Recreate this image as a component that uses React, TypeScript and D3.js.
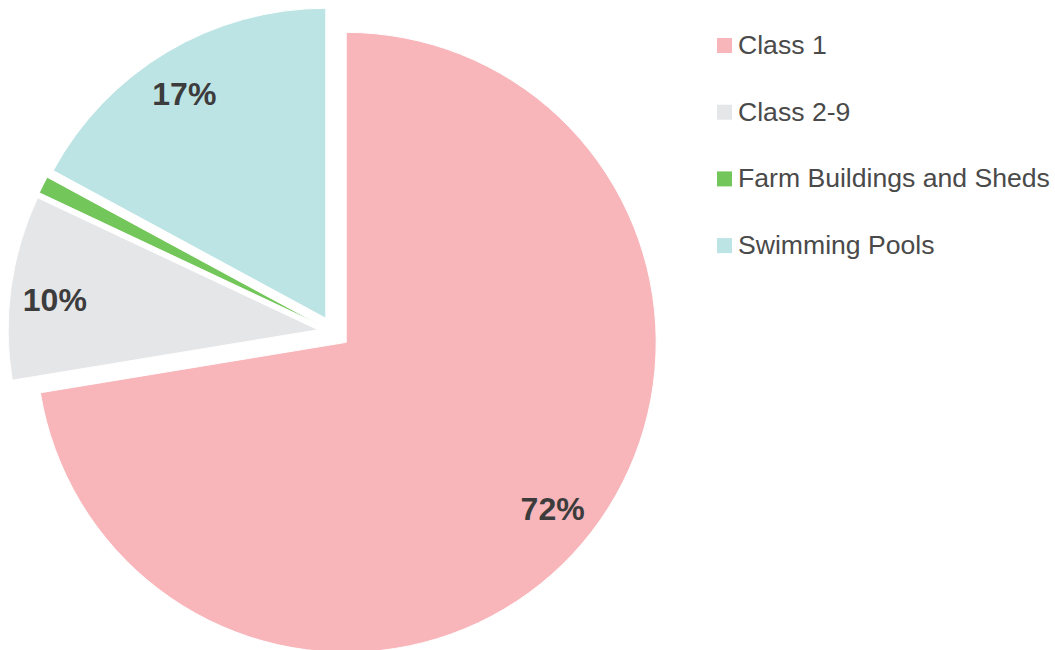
import React, { useRef, useEffect } from "react";
import * as d3 from "d3";

// slice data (percent of total)
const categories = ["Class 1", "Class 2-9", "Farm Buildings and Sheds", "Swimming Pools"];
const values = [72.4, 9.6, 0.9, 17.1];
const colors = ["#f8b6bb", "#e5e6e8", "#72c65a", "#bde4e4"];

const WIDTH = 1055;
const HEIGHT = 650;

export default function App() {
    const svgRef = useRef<SVGSVGElement | null>(null);

    useEffect(() => {
        const svg = d3.select(svgRef.current);
        svg.selectAll("*").remove();

        const cx = 334, cy = 332;
        const radius = 310;
        const explode = 16;
        const labelR = 265;
        const labelTurn = -0.026; // labels sit a touch counter-clockwise of the bisector
        const total = d3.sum(values);

        const data = categories.map((name, i) => ({ name, value: values[i], color: colors[i] }));

        const pie = d3.pie<any>()
            .sort(null)
            .value((d: any) => d.value)
            .startAngle(0)
            .endAngle(2 * Math.PI);

        const arc = d3.arc<any>().innerRadius(0).outerRadius(radius);

        const g = svg.append("g").attr("transform", "translate(" + cx + "," + cy + ")");

        const slices = g.selectAll("g.slice")
            .data(pie(data))
            .enter()
            .append("g")
            .attr("class", "slice")
            .attr("transform", (d: any) => {
                const mid = (d.startAngle + d.endAngle) / 2;
                return "translate(" + (Math.sin(mid) * explode) + "," + (-Math.cos(mid) * explode) + ")";
            });

        slices.append("path")
            .attr("d", arc)
            .attr("fill", (d: any) => d.data.color)
            .attr("stroke", "#ffffff")
            .attr("stroke-width", 1);

        // percentage labels, small slices left without one
        slices.filter((d: any) => d.value / total >= 0.05)
            .append("text")
            .attr("transform", (d: any) => {
                const a = (d.startAngle + d.endAngle) / 2 + labelTurn;
                return "translate(" + (Math.sin(a) * labelR) + "," + (-Math.cos(a) * labelR) + ")";
            })
            .attr("text-anchor", "middle")
            .attr("dominant-baseline", "central")
            .attr("font-family", "'Liberation Sans', Arial, sans-serif")
            .attr("font-weight", "bold")
            .attr("font-size", "32px")
            .attr("fill", "#3c3c3c")
            .text((d: any) => Math.round(d.value / total * 100) + "%");

        // legend
        const legend = svg.append("g").attr("transform", "translate(717,45)");
        const item = legend.selectAll("g.item")
            .data(data)
            .enter()
            .append("g")
            .attr("class", "item")
            .attr("transform", (d: any, i: number) => "translate(0," + (i * 66.7) + ")");

        item.append("rect")
            .attr("x", 0)
            .attr("y", -7)
            .attr("width", 15)
            .attr("height", 15)
            .attr("fill", (d: any) => d.color);

        item.append("text")
            .attr("x", 21)
            .attr("y", 0)
            .attr("dominant-baseline", "central")
            .attr("font-family", "'Liberation Sans', Arial, sans-serif")
            .attr("font-size", "26.6px")
            .attr("fill", "#4a4a4a")
            .text((d: any) => d.name);
    }, []);

    return (
        <div style={{ position: "absolute", left: 0, top: 0 }}>
            <svg ref={svgRef} width={WIDTH} height={HEIGHT} style={{ display: "block" }} />
        </div>
    );
}
